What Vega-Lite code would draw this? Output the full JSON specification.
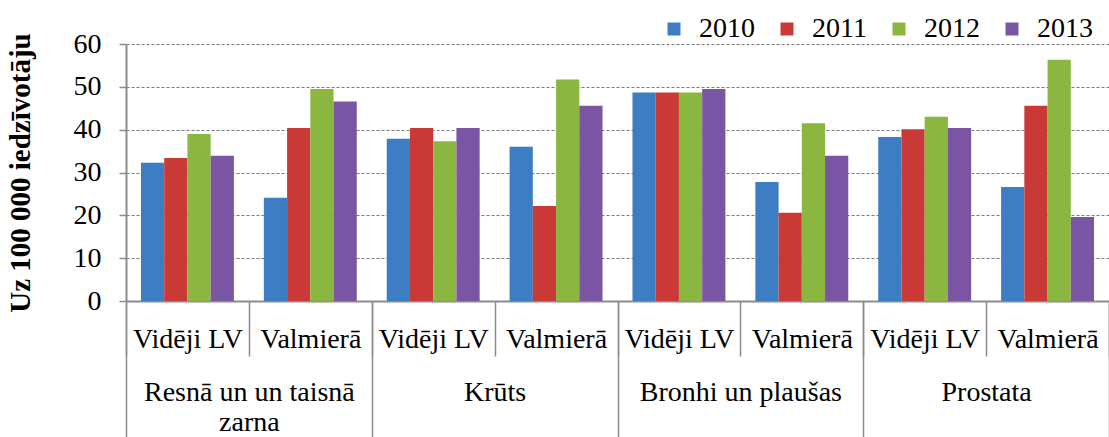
{
  "$schema": "https://vega.github.io/schema/vega-lite/v6.json",
  "width": 983,
  "height": 257,
  "autosize": {"type": "none"},
  "padding": {"left": 126, "top": 44, "right": 0, "bottom": 136},
  "background": "white",
  "config": {
    "font": "Liberation Serif, Times New Roman, serif",
    "axis": {"labelFont": "Liberation Serif, Times New Roman, serif", "titleFont": "Liberation Serif, Times New Roman, serif"},
    "legend": {"labelFont": "Liberation Serif, Times New Roman, serif", "titleFont": "Liberation Serif, Times New Roman, serif"},
    "view": {"stroke": null}
  },
  "data": {
    "values": [
      {"group": "Resnā un un taisnā zarna", "sub": "Vidēji LV", "cat": "Resnā un un taisnā zarna|Vidēji LV", "year": "2010", "value": 32.3},
      {"group": "Resnā un un taisnā zarna", "sub": "Vidēji LV", "cat": "Resnā un un taisnā zarna|Vidēji LV", "year": "2011", "value": 33.4},
      {"group": "Resnā un un taisnā zarna", "sub": "Vidēji LV", "cat": "Resnā un un taisnā zarna|Vidēji LV", "year": "2012", "value": 39.0},
      {"group": "Resnā un un taisnā zarna", "sub": "Vidēji LV", "cat": "Resnā un un taisnā zarna|Vidēji LV", "year": "2013", "value": 33.9},
      {"group": "Resnā un un taisnā zarna", "sub": "Valmierā", "cat": "Resnā un un taisnā zarna|Valmierā", "year": "2010", "value": 24.1},
      {"group": "Resnā un un taisnā zarna", "sub": "Valmierā", "cat": "Resnā un un taisnā zarna|Valmierā", "year": "2011", "value": 40.4},
      {"group": "Resnā un un taisnā zarna", "sub": "Valmierā", "cat": "Resnā un un taisnā zarna|Valmierā", "year": "2012", "value": 49.5},
      {"group": "Resnā un un taisnā zarna", "sub": "Valmierā", "cat": "Resnā un un taisnā zarna|Valmierā", "year": "2013", "value": 46.6},
      {"group": "Krūts", "sub": "Vidēji LV", "cat": "Krūts|Vidēji LV", "year": "2010", "value": 37.9},
      {"group": "Krūts", "sub": "Vidēji LV", "cat": "Krūts|Vidēji LV", "year": "2011", "value": 40.4},
      {"group": "Krūts", "sub": "Vidēji LV", "cat": "Krūts|Vidēji LV", "year": "2012", "value": 37.3},
      {"group": "Krūts", "sub": "Vidēji LV", "cat": "Krūts|Vidēji LV", "year": "2013", "value": 40.4},
      {"group": "Krūts", "sub": "Valmierā", "cat": "Krūts|Valmierā", "year": "2010", "value": 36.0},
      {"group": "Krūts", "sub": "Valmierā", "cat": "Krūts|Valmierā", "year": "2011", "value": 22.2},
      {"group": "Krūts", "sub": "Valmierā", "cat": "Krūts|Valmierā", "year": "2012", "value": 51.7},
      {"group": "Krūts", "sub": "Valmierā", "cat": "Krūts|Valmierā", "year": "2013", "value": 45.6},
      {"group": "Bronhi un plaušas", "sub": "Vidēji LV", "cat": "Bronhi un plaušas|Vidēji LV", "year": "2010", "value": 48.7},
      {"group": "Bronhi un plaušas", "sub": "Vidēji LV", "cat": "Bronhi un plaušas|Vidēji LV", "year": "2011", "value": 48.7},
      {"group": "Bronhi un plaušas", "sub": "Vidēji LV", "cat": "Bronhi un plaušas|Vidēji LV", "year": "2012", "value": 48.7},
      {"group": "Bronhi un plaušas", "sub": "Vidēji LV", "cat": "Bronhi un plaušas|Vidēji LV", "year": "2013", "value": 49.5},
      {"group": "Bronhi un plaušas", "sub": "Valmierā", "cat": "Bronhi un plaušas|Valmierā", "year": "2010", "value": 27.8},
      {"group": "Bronhi un plaušas", "sub": "Valmierā", "cat": "Bronhi un plaušas|Valmierā", "year": "2011", "value": 20.6},
      {"group": "Bronhi un plaušas", "sub": "Valmierā", "cat": "Bronhi un plaušas|Valmierā", "year": "2012", "value": 41.5},
      {"group": "Bronhi un plaušas", "sub": "Valmierā", "cat": "Bronhi un plaušas|Valmierā", "year": "2013", "value": 33.9},
      {"group": "Prostata", "sub": "Vidēji LV", "cat": "Prostata|Vidēji LV", "year": "2010", "value": 38.3},
      {"group": "Prostata", "sub": "Vidēji LV", "cat": "Prostata|Vidēji LV", "year": "2011", "value": 40.1},
      {"group": "Prostata", "sub": "Vidēji LV", "cat": "Prostata|Vidēji LV", "year": "2012", "value": 43.0},
      {"group": "Prostata", "sub": "Vidēji LV", "cat": "Prostata|Vidēji LV", "year": "2013", "value": 40.4},
      {"group": "Prostata", "sub": "Valmierā", "cat": "Prostata|Valmierā", "year": "2010", "value": 26.6},
      {"group": "Prostata", "sub": "Valmierā", "cat": "Prostata|Valmierā", "year": "2011", "value": 45.6},
      {"group": "Prostata", "sub": "Valmierā", "cat": "Prostata|Valmierā", "year": "2012", "value": 56.3},
      {"group": "Prostata", "sub": "Valmierā", "cat": "Prostata|Valmierā", "year": "2013", "value": 19.6}
    ]
  },
  "layer": [
    {
      "mark": {"type": "bar"},
      "encoding": {
        "x": {
          "field": "cat", "type": "nominal", "sort": null,
          "scale": {"paddingInner": 0, "paddingOuter": 0},
          "axis": {
            "title": null, "orient": "bottom",
            "labelExpr": "split(datum.value, '|')[1]",
            "tickBand": "extent", "tickSize": 55, "tickColor": "#8c8c8c", "tickWidth": 1.5,
            "domainColor": "#8c8c8c", "domainWidth": 2,
            "labelFontSize": 28, "labelColor": "black", "labelAngle": 0,
            "labelPadding": -31, "labelOverlap": false, "labelLimit": 0, "grid": false
          }
        },
        "xOffset": {"field": "year", "type": "nominal", "scale": {"paddingInner": 0, "paddingOuter": 0.645}},
        "y": {
          "field": "value", "type": "quantitative",
          "scale": {"domain": [0, 60], "nice": false},
          "axis": {
            "title": "Uz 100 000 iedzīvotāju",
            "titleFontSize": 29, "titleFontWeight": "bold", "titleColor": "black", "titlePadding": 38,
            "values": [0, 10, 20, 30, 40, 50, 60],
            "labelFontSize": 28, "labelColor": "black", "labelPadding": 18,
            "tickSize": 7, "tickColor": "#8c8c8c", "tickWidth": 1.5,
            "domainColor": "#8c8c8c", "domainWidth": 2,
            "grid": true, "gridColor": "#7a7a7a", "gridDash": [3, 2], "gridWidth": 1.2
          }
        },
        "color": {
          "field": "year", "type": "nominal",
          "scale": {"range": ["#3c7dc4", "#c93a36", "#8bb640", "#7a55a3"]},
          "legend": {
            "title": null, "orient": "none", "legendX": 534, "legendY": -29,
            "direction": "horizontal", "columns": 4,
            "symbolType": "square", "symbolSize": 169, "symbolStrokeWidth": 0,
            "labelFontSize": 28, "labelColor": "black", "labelOffset": 11, "columnPadding": 18
          }
        }
      }
    },
    {
      "mark": {"type": "rule", "opacity": 0},
      "encoding": {
        "x": {
          "field": "group", "type": "nominal", "sort": null,
          "scale": {"paddingInner": 0, "paddingOuter": 0},
          "axis": {
            "title": null, "orient": "bottom", "domain": false,
            "tickBand": "extent", "tickSize": 136, "tickColor": "#8c8c8c", "tickWidth": 1.5,
            "labelFontSize": 28, "labelColor": "black", "labelAngle": 0,
            "labelPadding": -59, "labelLineHeight": 30,
            "labelExpr": "datum.value == 'Resnā un un taisnā zarna' ? ['Resnā un un taisnā', 'zarna'] : datum.value",
            "labelOverlap": false, "labelLimit": 0, "grid": false
          }
        }
      }
    }
  ],
  "resolve": {"scale": {"x": "independent"}, "axis": {"x": "independent"}}
}
